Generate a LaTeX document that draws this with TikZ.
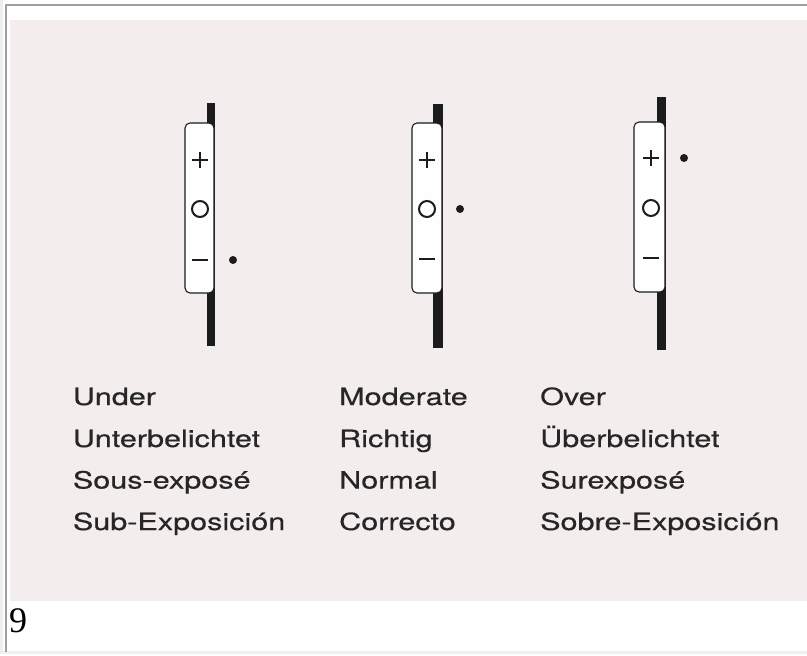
\documentclass[tikz,border=0pt]{standalone}
\usepackage{fontspec}
\newfontfamily\labfont[FakeStretch=1.29,FakeBold=0.4]{TeX Gyre Heros}
\newfontfamily\numfont{Liberation Serif}
\definecolor{paper}{RGB}{244,237,237}
\definecolor{framedark}{RGB}{160,160,160}
\definecolor{framelight}{RGB}{238,238,238}
\definecolor{ink}{RGB}{28,28,28}
\definecolor{txt}{RGB}{38,38,38}
\tikzset{
  barfill/.style={fill=ink},
  sliderbox/.style={draw=ink, line width=1.1pt, fill=white!94!paper, rounded corners=5pt, inner sep=0pt},
  symline/.style={draw=ink, line width=2.4pt},
  minusline/.style={draw=ink, line width=2.8pt},
  ringline/.style={draw=ink, line width=2pt},
  markdot/.style={fill=ink},
  lab/.style={anchor=base west, inner sep=0pt, text=txt, font=\labfont\fontsize{23.7}{28}\selectfont}
}
\begin{document}
\begin{tikzpicture}[x=1pt,y=-1pt]
\useasboundingbox (0,0) rectangle (807,656);
\fill[white] (0,0) rectangle (807,656);
% frame
\fill[framelight] (0,0) rectangle (3,654);
\fill[framelight] (0,651) rectangle (807,654);
\fill[framedark] (5,4) rectangle (7,652);
\fill[framedark] (5,4) rectangle (807,6);
% paper
\fill[paper] (10,20) rectangle (807,601);

% slider 1 (under)
\fill[barfill] (206.5,103) rectangle (215,346);
\node[sliderbox, minimum width=29pt, minimum height=170pt] (box1) at (199.5,208) {};
\draw[symline] (192,160) -- (208,160) (200,152) -- (200,168);
\draw[ringline] (200,209) circle (8);
\draw[minusline] (192,260) -- (208,260);
\fill[markdot] (233,260) circle (4);

% slider 2 (moderate)
\fill[barfill] (432.5,104) rectangle (442.5,348);
\node[sliderbox, minimum width=30pt, minimum height=170pt] (box2) at (427,208) {};
\draw[symline] (419,160) -- (435,160) (427,152) -- (427,168);
\draw[ringline] (427,209) circle (8);
\draw[minusline] (419,259) -- (435,259);
\fill[markdot] (460,209) circle (4);

% slider 3 (over)
\fill[barfill] (657,97) rectangle (666,350);
\node[sliderbox, minimum width=31pt, minimum height=170pt] (box3) at (649.5,207) {};
\draw[symline] (643,158) -- (659,158) (651,150) -- (651,166);
\draw[ringline] (651,208) circle (8);
\draw[minusline] (643,258) -- (659,258);
\fill[markdot] (684,158) circle (4);

% labels
\node[lab] (u1) at (72.7,405) {Under};
\node[lab] (u2) at (72.7,447) {Unterbelichtet};
\node[lab] (u3) at (72.7,488.5) {Sous-exposé};
\node[lab] (u4) at (72.7,530) {Sub-Exposición};
\node[lab] (m1) at (339,405) {Moderate};
\node[lab] (m2) at (339,447) {Richtig};
\node[lab] (m3) at (339,488.5) {Normal};
\node[lab] (m4) at (339,530) {Correcto};
\node[lab] (o1) at (540,405) {Over};
\node[lab] (o2) at (540,447) {Überbelichtet};
\node[lab] (o3) at (540,488.5) {Surexposé};
\node[lab] (o4) at (540,530) {Sobre-Exposición};

% page number
\node[anchor=base west, inner sep=0pt, font=\numfont\fontsize{36}{40}\selectfont] (pg) at (9,632) {9};
\end{tikzpicture}
\end{document}
